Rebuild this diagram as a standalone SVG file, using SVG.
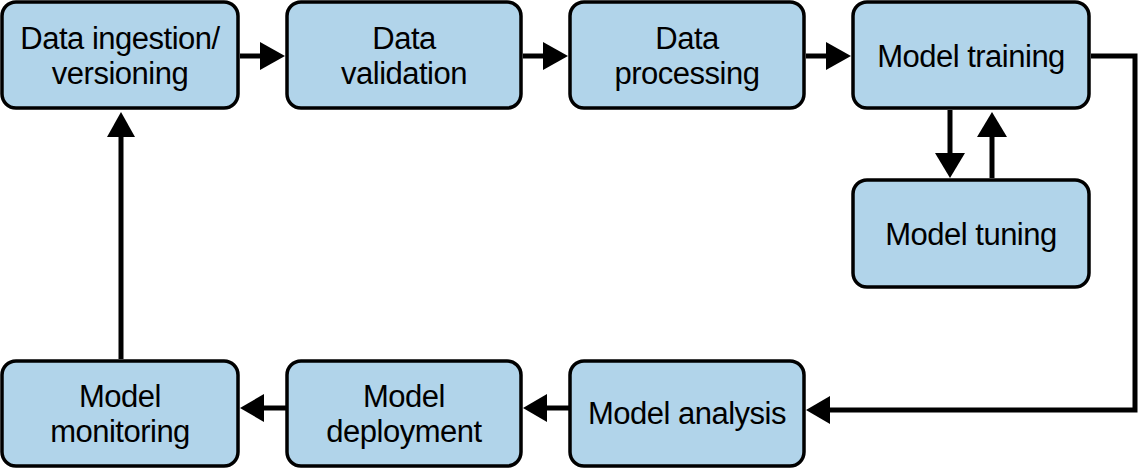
<svg xmlns="http://www.w3.org/2000/svg" width="1140" height="469" viewBox="0 0 1140 469">
<style>
.box{fill:#b1d4ea;stroke:#000;stroke-width:3.5}
.lbl{font-family:"Liberation Sans",Arial,sans-serif;font-size:31px;letter-spacing:-0.5px;fill:#000;text-anchor:middle}
.ln{fill:none;stroke:#000;stroke-width:5}
.hd{fill:#000}
</style>
<rect width="1140" height="469" fill="#fff"/>
<g id="n-ingest"><rect class="box" x="2" y="2" width="236" height="106" rx="14"/><text class="lbl" x="120" y="49">Data ingestion/</text><text class="lbl" x="120" y="84">versioning</text></g>
<g id="n-validation"><rect class="box" x="287" y="2" width="234" height="106" rx="14"/><text class="lbl" x="404" y="49">Data</text><text class="lbl" x="404" y="84">validation</text></g>
<g id="n-processing"><rect class="box" x="570" y="2" width="234" height="106" rx="14"/><text class="lbl" x="687" y="49">Data</text><text class="lbl" x="687" y="84">processing</text></g>
<g id="n-training"><rect class="box" x="853" y="2" width="236" height="106" rx="14"/><text class="lbl" x="971" y="67">Model training</text></g>
<g id="n-tuning"><rect class="box" x="853" y="180" width="236" height="107" rx="14"/><text class="lbl" x="971" y="245">Model tuning</text></g>
<g id="n-analysis"><rect class="box" x="570" y="361" width="234" height="105" rx="14"/><text class="lbl" x="687" y="424">Model analysis</text></g>
<g id="n-deployment"><rect class="box" x="287" y="361" width="234" height="105" rx="14"/><text class="lbl" x="404" y="407">Model</text><text class="lbl" x="404" y="442">deployment</text></g>
<g id="n-monitoring"><rect class="box" x="2" y="361" width="236" height="105" rx="14"/><text class="lbl" x="120" y="407">Model</text><text class="lbl" x="120" y="442">monitoring</text></g>
<g id="connectors">
<line class="ln" x1="240" y1="56" x2="262" y2="56"/><polygon class="hd" points="260,42 285,56 260,70"/>
<line class="ln" x1="523" y1="56" x2="545" y2="56"/><polygon class="hd" points="543,42 568,56 543,70"/>
<line class="ln" x1="806" y1="56" x2="828" y2="56"/><polygon class="hd" points="826,42 851,56 826,70"/>
<line class="ln" x1="950" y1="110" x2="950" y2="155"/><polygon class="hd" points="935,153 950,178 965,153"/>
<line class="ln" x1="992" y1="178" x2="992" y2="135"/><polygon class="hd" points="977,137 992,112 1007,137"/>
<polyline class="ln" points="1091,56 1135,56 1135,410 828,410"/><polygon class="hd" points="830,396 806,410 830,424"/>
<line class="ln" x1="570" y1="408" x2="545" y2="408"/><polygon class="hd" points="547,394 523,408 547,422"/>
<line class="ln" x1="287" y1="408" x2="262" y2="408"/><polygon class="hd" points="264,394 240,408 264,422"/>
<line class="ln" x1="121" y1="359" x2="121" y2="135"/><polygon class="hd" points="107,137 121,112 135,137"/>
</g>
</svg>
